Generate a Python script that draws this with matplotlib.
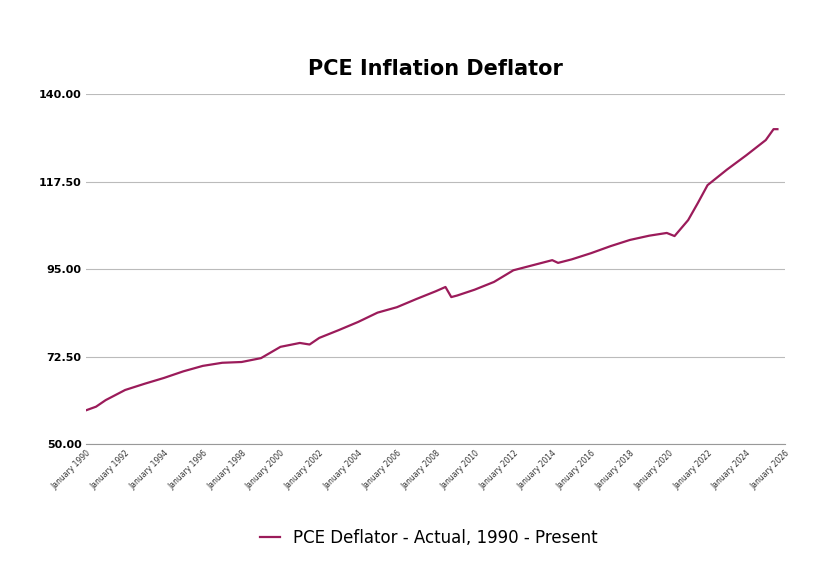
import matplotlib
matplotlib.use("Agg")
from matplotlib import pyplot as plt

# decimal year and deflator value
YEARS = [1990.0, 1990.5, 1991.0, 1992.0, 1993.0, 1994.0, 1995.0, 1996.0, 1997.0, 1998.0,
         1999.0, 2000.0, 2001.0, 2001.5, 2002.0, 2003.0, 2004.0, 2005.0, 2006.0, 2007.0,
         2008.0, 2008.5, 2008.8, 2009.1, 2010.0, 2011.0, 2012.0, 2013.0, 2014.0, 2014.3,
         2015.0, 2016.0, 2017.0, 2018.0, 2019.0, 2019.9, 2020.3, 2021.0, 2021.5, 2022.0,
         2023.0, 2024.0, 2025.0, 2025.4, 2025.6]
VALUES = [58.7, 59.6, 61.3, 63.9, 65.5, 67.0, 68.7, 70.1, 70.9, 71.1,
          72.1, 75.0, 76.0, 75.6, 77.3, 79.3, 81.4, 83.8, 85.2, 87.3,
          89.3, 90.4, 87.8, 88.2, 89.7, 91.7, 94.7, 96.0, 97.3, 96.6,
          97.5, 99.1, 100.9, 102.5, 103.6, 104.3, 103.5, 107.6, 112.0, 116.6,
          120.6, 124.3, 128.2, 131.0, 131.0]

TICK_YEARS = list(range(1990, 2027, 2))
Y_TICKS = [50, 72.5, 95, 117.5, 140]

plt.figure(figsize=(8.38, 5.85), dpi=100)
ax = plt.axes([0.103, 0.241, 0.834, 0.598])
ax.plot(YEARS, VALUES, color='#9b1b5a', linewidth=1.6, label='PCE Deflator - Actual, 1990 - Present')
ax.set_xlim(1990, 2026)
ax.set_ylim(50, 140)
ax.set_yticks(Y_TICKS)
ax.set_yticklabels(['%.2f' % v for v in Y_TICKS], fontsize=8, fontweight='bold')
ax.set_xticks(TICK_YEARS)
ax.set_xticklabels(['January %d' % y for y in TICK_YEARS], rotation=45, ha='right',
                   rotation_mode='anchor', fontsize=5.5, color='#333333')
ax.grid(axis='y', color='#bbbbbb', linewidth=0.8)
ax.tick_params(length=0)
for s in ['top', 'right', 'left']:
    ax.spines[s].set_visible(False)
ax.spines['bottom'].set_color('#999999')
ax.set_title('PCE Inflation Deflator', fontsize=15, fontweight='bold', pad=14)
ax.legend(loc='upper center', bbox_to_anchor=(0.49, -0.2), frameon=False, fontsize=12,
          handlelength=1.2)
plt.savefig('out.png')
